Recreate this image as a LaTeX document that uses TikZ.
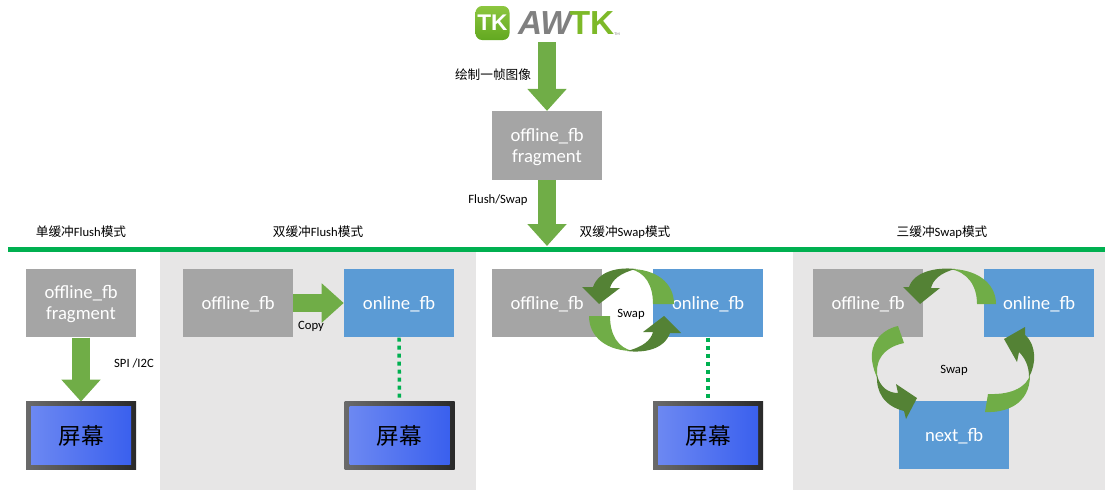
\documentclass[tikz,border=0pt]{standalone}
\usepackage{fontspec}
\setmainfont{Carlito}
\newfontfamily\zhfont{Noto Sans CJK SC}
\newfontfamily\logofont[BoldItalicFont=Liberation Sans Bold Italic]{Liberation Sans}
\usetikzlibrary{arrows.meta,shadings}
\definecolor{fbgray}{HTML}{A5A5A5}
\definecolor{fbblue}{HTML}{5B9BD5}
\definecolor{agreen}{HTML}{70AD47}
\definecolor{dgreen}{HTML}{548235}
\definecolor{linegreen}{HTML}{00B050}
\definecolor{panelgray}{HTML}{E7E6E6}
\definecolor{scrleft}{HTML}{6C88F2}
\definecolor{scrright}{HTML}{3A60EE}
\definecolor{frameleft}{HTML}{6A6A6A}
\definecolor{frameright}{HTML}{2A2A2A}
\definecolor{icontop}{HTML}{8CC63F}
\definecolor{iconbot}{HTML}{62A820}
\definecolor{logotk}{HTML}{7DB928}
\definecolor{logoaw}{HTML}{808080}
\newcommand{\zh}[1]{{\zhfont #1}}
\newcommand{\fbt}[1]{\raisebox{-1.5pt}[1.0\height][1.0\depth]{\begin{tabular}{@{}c@{}}#1\end{tabular}}}
\newcommand{\screenat}[2]{%
  \node[screenframe] (#1) at (#2) {};
  \node[screenpanel] (#1text) at (#1) {\zh{屏幕}};}
\tikzset{
  fbbox/.style={minimum width=82.5pt,minimum height=51.5pt,inner sep=0pt,text=white,align=center,font=\fontsize{14}{16}\selectfont},
  offbox/.style={fbbox,fill=fbgray},
  onbox/.style={fbbox,fill=fbblue},
  screenframe/.style={minimum width=82.5pt,minimum height=50.5pt,inner sep=0pt,left color=frameleft,right color=frameright},
  screenpanel/.style={minimum width=75pt,minimum height=43pt,inner sep=0pt,left color=scrleft,right color=scrright,font=\fontsize{17}{20}\selectfont},
  label/.style={inner sep=0pt,font=\fontsize{9.5}{11}\selectfont,text=black},
  blockarrow/.style={draw=agreen,line width=13.5pt,-{Triangle[width=28.5pt,length=16.5pt,fill=agreen]}},
  linkline/.style={draw=linegreen,line width=2.6pt,dash pattern=on 3pt off 3pt},
  light/.style={fill=agreen},
  dark/.style={fill=dgreen},
}
\begin{document}
\begin{tikzpicture}[x=0.75pt,y=-0.75pt]
\useasboundingbox (0,0) rectangle (1105,490);
% panels
\fill[panelgray] (160,252) rectangle (476,490);
\fill[panelgray] (793,252) rectangle (1105,490);
% logo
\node[minimum size=25.5pt,inner sep=0pt,rounded corners=5pt,top color=icontop,bottom color=iconbot,text=white,font=\logofont\bfseries\fontsize{17}{17}\selectfont] (logoicon) at (492.5,23) {TK};
\node[inner sep=0pt,text=logoaw,font=\logofont\bfseries\itshape\fontsize{25}{25}\selectfont] (logoaw) at (545,23) {AW};
\node[inner sep=0pt,text=logotk,font=\logofont\bfseries\fontsize{25}{25}\selectfont] (logotk) at (592,23) {TK};
\node[inner sep=0pt,text=black!50,font=\fontsize{3}{3}\selectfont] (logotm) at (617,34.5) {TM};
\coordinate (drawstart) at (547,42);
% top box
\node[offbox] (top) at (547,145.5) {\fbt{offline\_fb\\fragment}};
\coordinate (flushtip) at (547,246);
\draw[blockarrow] (drawstart) -- (top.north);
\draw[blockarrow] (top.south) -- (flushtip);
\node[label] (drawlabel) at (493,75) {\zh{绘制一帧图像}};
\node[label] (flushlabel) at (498,200) {Flush/Swap};
% divider
\coordinate (divl) at (8,249.5);
\coordinate (divr) at (1105,249.5);
\draw[draw=linegreen,line width=4.1pt] (divl) -- (divr);
% headings
\node[label] (h1) at (81,232) {\zh{单缓冲}Flush\zh{模式}};
\node[label] (h2) at (318,232) {\zh{双缓冲}Flush\zh{模式}};
\node[label] (h3) at (625,232) {\zh{双缓冲}Swap\zh{模式}};
\node[label] (h4) at (942,232) {\zh{三缓冲}Swap\zh{模式}};
% panel 1
\node[offbox] (a1) at (81,303) {\fbt{offline\_fb\\fragment}};
\screenat{s1}{81,435.5}
\draw[blockarrow] (a1.south) -- (s1.north);
\node[label] (spi) at (134,363) {SPI /I2C};
% panel 2
\node[offbox] (b1) at (238,303) {\fbt{offline\_fb}};
\node[onbox] (b2) at (399,303) {\fbt{online\_fb}};
\screenat{s2}{399.5,435.5}
\draw[blockarrow] (b1.east) -- (b2.west);
\draw[linkline] (b2.south) -- (s2.north);
\node[label] (copy) at (311,326) {Copy};
% panel 3
\node[offbox] (c1) at (547,303) {\fbt{offline\_fb}};
\node[onbox] (c2) at (708,303) {\fbt{online\_fb}};
\screenat{s3}{708,435.5}
\draw[linkline] (c2.south) -- (s3.north);
\foreach \r in {0,180}{
\begin{scope}[rotate around={\r:(631.5,310)}]
\fill[light] (674,304) .. controls (674,282) and (655,269) .. (630,269) .. controls (645,272) and (653,285) .. (653,304) -- cycle;
\fill[dark] (636,269) .. controls (620,267) and (599,270) .. (593,287) -- (582,287) -- (599,304) -- (620,288) -- (610,288) .. controls (612,280) and (620,273) .. (636,269) -- cycle;
\end{scope}}
\node[label] (swap1) at (631,314) {Swap};
% panel 4
\node[offbox] (d1) at (868,303) {\fbt{offline\_fb}};
\node[onbox] (d2) at (1039,303) {\fbt{online\_fb}};
\node[onbox] (d3) at (954,435) {\fbt{next\_fb}};
\fill[light] (996,304) .. controls (996,282) and (975,269) .. (950,269) .. controls (967,272) and (977,285) .. (977,304) -- cycle;
\fill[dark] (955,269) .. controls (935,267) and (914,272) .. (909,287) -- (903,287) -- (920,304) -- (940,288) -- (931,288) .. controls (933,280) and (940,273) .. (955,269) -- cycle;
\fill[light] (898,326) .. controls (880,330) and (870,345) .. (872,360) .. controls (873,368) and (875,373) .. (878,380) .. controls (874,365) and (880,348) .. (904,343) -- cycle;
\fill[dark] (877,375) .. controls (876,392) and (884,406) .. (904,411) -- (906,419) -- (917,398) -- (896,384) -- (898,393) .. controls (888,393) and (880,387) .. (877,375) -- cycle;
\fill[light] (985,412) .. controls (1005,413) and (1030,405) .. (1030,375) .. controls (1027,385) and (1015,395) .. (988,394) -- cycle;
\fill[dark] (1029,377) .. controls (1036,365) and (1037,345) .. (1025,335) -- (1025,327) -- (1004,339) -- (1017,362) -- (1019,352) .. controls (1025,358) and (1029,366) .. (1029,377) -- cycle;
\node[label] (swap2) at (954,370) {Swap};
\end{tikzpicture}
\end{document}
